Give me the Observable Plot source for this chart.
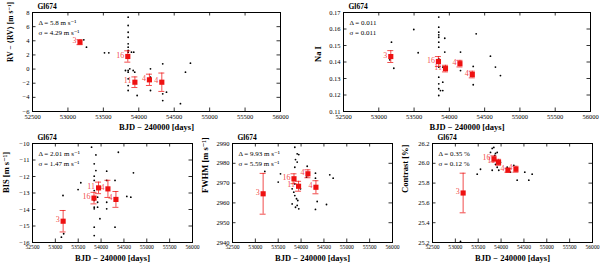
<!DOCTYPE html>
<html>
<head>
<meta charset="utf-8">
<script src="https://cdn.jsdelivr.net/npm/d3@7"></script>
<script src="https://cdn.jsdelivr.net/npm/@observablehq/plot@0.6"></script>
<style>
  html, body { margin: 0; padding: 0; background: #fff; }
  #wrap { position: relative; width: 600px; height: 267px; overflow: hidden; }
  #wrap svg { position: absolute; }
</style>
</head>
<body>
<div id="wrap"></div>
<script>
// ---------- data ----------
const xTicks = [52500, 53000, 53500, 54000, 54500, 55000, 55500, 56000];
const starName = "Gl674";
const xLabel = "BJD − 240000 [days]";
const binLabels = ["3", "16", "11", "4", "4"];
const binBJD = [53170, 53845, 53945, 54150, 54325];

// RV
const rvBin = [3.8, 1.78, -1.86, -1.52, -1.86];
const rvBinErr = [0.35, 0.8, 0.75, 0.8, 1.3];
const rvBJD = [53224, 53262, 53516, 53577, 53850, 53850, 53850, 53850, 53850, 53850, 53850, 53850, 53850, 53850, 53850, 53850, 53850, 53850,
  53897, 53929, 53812, 53873, 53921, 53943, 53977, 54165, 54165, 54165, 54338, 54338, 54338, 54391, 54588, 54659, 54729];
const rvVal = [4.14, 3.09, 2.30, 2.30, 7.34, 6.16, 5.21, 4.50, 3.57, 3.09, 2.63, 2.39, 1.92, -0.2, -0.44, -1.38, -2.33, -3.03,
  2.39, 2.39, -0.2, 0.04, -0.2, -0.44, -3.74, 0.04, -1.15, -3.03, 0.74, -3.5, -4.45, -3.27, -4.9, -0.44, 0.83];
const rvTicks = [-6, -4, -2, 0, 2, 4, 6, 8];

// Na I
const naBin = [0.1433, 0.1403, 0.1360, 0.1390, 0.1324];
const naBinErr = [0.0036, 0.003, 0.002, 0.002, 0.002];
const naBJD = [53180, 53156, 53213, 53496, 53558, 53850, 53850, 53850, 53850, 53850, 53850, 53850, 53850, 53850, 53850, 53850, 53850, 53850,
  53935, 53935, 53907, 53907, 53907, 53874, 54158, 54158, 54338, 54338, 54380, 54582, 54653, 54724];
const naVal = [0.152, 0.1413, 0.1362, 0.1597, 0.1456, 0.1672, 0.1611, 0.1581, 0.1565, 0.155, 0.152, 0.149, 0.1419, 0.1369, 0.1308, 0.1268, 0.1238, 0.1197,
  0.1544, 0.146, 0.1369, 0.1278, 0.1227, 0.1227, 0.146, 0.1348, 0.1373, 0.1262, 0.1571, 0.1435, 0.1369, 0.1318];
const naTicks = [0.11, 0.12, 0.13, 0.14, 0.15, 0.16, 0.17];

// BIS
const bisBin = [-14.71, -13.31, -12.69, -12.75, -13.39];
const bisBinErr = [0.65, 0.35, 0.35, 0.52, 0.48];
const bisBJD = [53792, 53887, 54378, 53850, 53887, 53850, 54123, 53557, 53497, 54708, 53850, 53850, 53850, 53850, 53850, 53850, 53850,
  53924, 53924, 53924, 54123, 54123, 54123, 54305, 54305, 53975, 54563, 54651, 53167, 53182, 53132];
const bisVal = [-10.22, -10.69, -10.53, -11.23, -11.64, -11.98, -11.68, -12.38, -12.79, -11.78, -12.24, -12.85, -13.45, -13.86, -13.96, -15.07, -15.58,
  -13.25, -13.56, -13.86, -12.24, -13.56, -13.96, -12.24, -15.07, -14.56, -13.21, -13.25, -13.15, -15.47, -15.68];
const bisTicks = [-16, -15, -14, -13, -12, -11, -10];

// FWHM
const fwBin = [2964.6, 2972.2, 2968.4, 2974.7, 2967.9];
const fwBinErr = [10.3, 2.5, 2.5, 2.0, 3.3];
const fwBJD = [53863, 53915, 53950, 53878, 53915, 53207, 53550, 53500, 53863, 54134, 54119, 54315, 54315, 54628, 54702, 53805, 53841, 53863,
  53900, 53928, 53805, 53915, 53878, 53950, 53987, 54352, 54315, 54556, 53863];
const fwVal = [2988.1, 2984.8, 2984.4, 2981.9, 2980.6, 2975.9, 2974.7, 2970.5, 2978.0, 2978.5, 2973.0, 2975.0, 2972.5, 2974.2, 2972.5, 2967.1, 2965.4, 2963.7,
  2962.1, 2961.2, 2959.5, 2958.7, 2957.8, 2957.0, 2967.1, 2960.7, 2956.7, 2959.2, 2969.6];
const fwTicks = [2940, 2950, 2960, 2970, 2980, 2990];

// Contrast
const ctBin = [25.70, 26.045, 26.01, 25.93, 25.94];
const ctBinErr = [0.2, 0.03, 0.03, 0.02, 0.03];
const ctBJD = [53112, 53478, 53550, 53769, 53806, 53841, 53878, 53915, 53863, 53828, 53878, 53806, 53950, 53915, 54134, 54206, 54279, 54352, 54519, 54607, 54680, 53987];
const ctVal = [25.21, 25.89, 25.94, 26.11, 26.15, 26.16, 26.10, 26.11, 26.08, 26.03, 25.99, 25.93, 25.93, 25.96, 25.96, 25.91, 25.98, 25.83, 25.91, 25.83, 25.89, 26.01];
const ctTicks = [25.2, 25.4, 25.6, 25.8, 26.0, 26.2];

// ---------- drawing ----------
const RED = "#ee1111";
const FONT = "Liberation Serif, DejaVu Serif, serif";
const minus = s => String(s).replace("-", "−");

function panel(cfg) {
  const pts = cfg.bjd.map((b, i) => ({x: b, y: cfg.val[i]}));
  const bins = binBJD.map((b, i) => ({x: b, y: cfg.bin[i], lo: cfg.bin[i] - cfg.err[i], hi: cfg.bin[i] + cfg.err[i], lab: binLabels[i]}));
  const fh = cfg.height - cfg.mt - cfg.mb;
  const fw = cfg.width - cfg.ml - cfg.mr;
  const tl = 3.5;
  const svg = Plot.plot({
    width: cfg.width, height: cfg.height,
    marginLeft: cfg.ml, marginRight: cfg.mr, marginTop: cfg.mt, marginBottom: cfg.mb,
    style: {fontFamily: FONT, fontSize: "7px", background: "transparent", overflow: "visible", color: "#000"},
    x: {domain: [52500, 56000], ticks: xTicks},
    y: {domain: cfg.ydomain, ticks: cfg.yticks},
    marks: [
      Plot.axisX(xTicks, {tickSize: 0, tickPadding: 3, label: null, tickFormat: d => String(d), fontSize: cfg.xtFont}),
      Plot.axisY(cfg.yticks, {tickSize: 0, tickPadding: 3, label: null, tickFormat: cfg.fmt, fontSize: 6.5}),
      Plot.ruleX(xTicks, {insetTop: fh - tl, stroke: "#000", strokeWidth: 0.8}),
      Plot.ruleX(xTicks, {insetBottom: fh - tl, stroke: "#000", strokeWidth: 0.8}),
      Plot.ruleY(cfg.yticks, {insetRight: fw - tl, stroke: "#000", strokeWidth: 0.8}),
      Plot.ruleY(cfg.yticks, {insetLeft: fw - tl, stroke: "#000", strokeWidth: 0.8}),
      Plot.dot(pts, {x: "x", y: "y", r: 0.9, fill: "#000", stroke: null}),
      Plot.ruleX(bins, {x: "x", y1: "lo", y2: "hi", stroke: RED, strokeOpacity: 0.75, strokeWidth: 1}),
      Plot.ruleY(bins, {y: "lo", x1: "x", x2: "x", insetLeft: -3, insetRight: -3, stroke: RED, strokeOpacity: 0.75, strokeWidth: 1}),
      Plot.ruleY(bins, {y: "hi", x1: "x", x2: "x", insetLeft: -3, insetRight: -3, stroke: RED, strokeOpacity: 0.75, strokeWidth: 1}),
      Plot.dot(bins, {x: "x", y: "y", symbol: "square", r: 2.9, fill: RED, stroke: null}),
      Plot.text(bins, {x: "x", y: "y", text: "lab", dx: -3.5, dy: -1.5, textAnchor: "end", fill: RED, fillOpacity: 0.8, fontSize: 8}),
      Plot.frame({stroke: "#000", strokeWidth: 1}),
      Plot.text([starName], {frameAnchor: "top-left", dx: 5, dy: -4, lineAnchor: "bottom", textAnchor: "start", fontSize: 7.5, fontWeight: "bold"}),
      Plot.text([cfg.delta], {frameAnchor: "top-left", dx: 6, dy: 8, textAnchor: "start", fontSize: 7}),
      Plot.text([cfg.sigma], {frameAnchor: "top-left", dx: 6, dy: 18, textAnchor: "start", fontSize: 7}),
      Plot.text([xLabel], {frameAnchor: "bottom", dy: cfg.xlabDy, fontSize: 8.5, fontWeight: "bold"}),
      Plot.text([cfg.ylabel], {frameAnchor: "left", dx: cfg.ylabDx, rotate: -90, fontSize: cfg.ylabFont || 8.5, fontWeight: "bold"})
    ]
  });
  svg.style.left = cfg.left + "px";
  svg.style.top = cfg.top + "px";
  document.getElementById("wrap").appendChild(svg);
}

panel({left: 0, top: 0, width: 300, height: 134, ml: 32, mr: 20, mt: 12, mb: 23, xtFont: 6.5,
  bjd: rvBJD, val: rvVal, bin: rvBin, err: rvBinErr, ydomain: [-6, 8], yticks: rvTicks, fmt: d => minus(d),
  delta: "Δ = 5.8 m s⁻¹", sigma: "σ = 4.29 m s⁻¹", ylabel: "RV − ⟨RV⟩ [m s⁻¹]", ylabDx: -22, xlabDy: 18, ylabFont: 7.5});

panel({left: 300, top: 0, width: 300, height: 134, ml: 43, mr: 10, mt: 12, mb: 23, xtFont: 6.5,
  bjd: naBJD, val: naVal, bin: naBin, err: naBinErr, ydomain: [0.11, 0.17], yticks: naTicks, fmt: d => d.toFixed(2),
  delta: "Δ = 0.011", sigma: "σ = 0.011", ylabel: "Na I", ylabDx: -25, xlabDy: 18});

panel({left: 0, top: 134, width: 200, height: 133, ml: 32, mr: 8, mt: 9, mb: 25, xtFont: 5.6,
  bjd: bisBJD, val: bisVal, bin: bisBin, err: bisBinErr, ydomain: [-16, -10], yticks: bisTicks, fmt: d => minus(d),
  delta: "Δ = 2.01 m s⁻¹", sigma: "σ = 1.47 m s⁻¹", ylabel: "BIS [m s⁻¹]", ylabDx: -26, xlabDy: 18});

panel({left: 200, top: 134, width: 200, height: 133, ml: 32, mr: 8, mt: 9, mb: 25, xtFont: 5.6,
  bjd: fwBJD, val: fwVal, bin: fwBin, err: fwBinErr, ydomain: [2940, 2990], yticks: fwTicks, fmt: d => String(d),
  delta: "Δ = 9.93 m s⁻¹", sigma: "σ = 5.59 m s⁻¹", ylabel: "FWHM [m s⁻¹]", ylabDx: -27, xlabDy: 18});

panel({left: 400, top: 134, width: 200, height: 133, ml: 32, mr: 8, mt: 9, mb: 25, xtFont: 5.6,
  bjd: ctBJD, val: ctVal, bin: ctBin, err: ctBinErr, ydomain: [25.2, 26.2], yticks: ctTicks, fmt: d => d.toFixed(1),
  delta: "Δ = 0.35 %", sigma: "σ = 0.12 %", ylabel: "Contrast [%]", ylabDx: -27, xlabDy: 18});
</script>
</body>
</html>
